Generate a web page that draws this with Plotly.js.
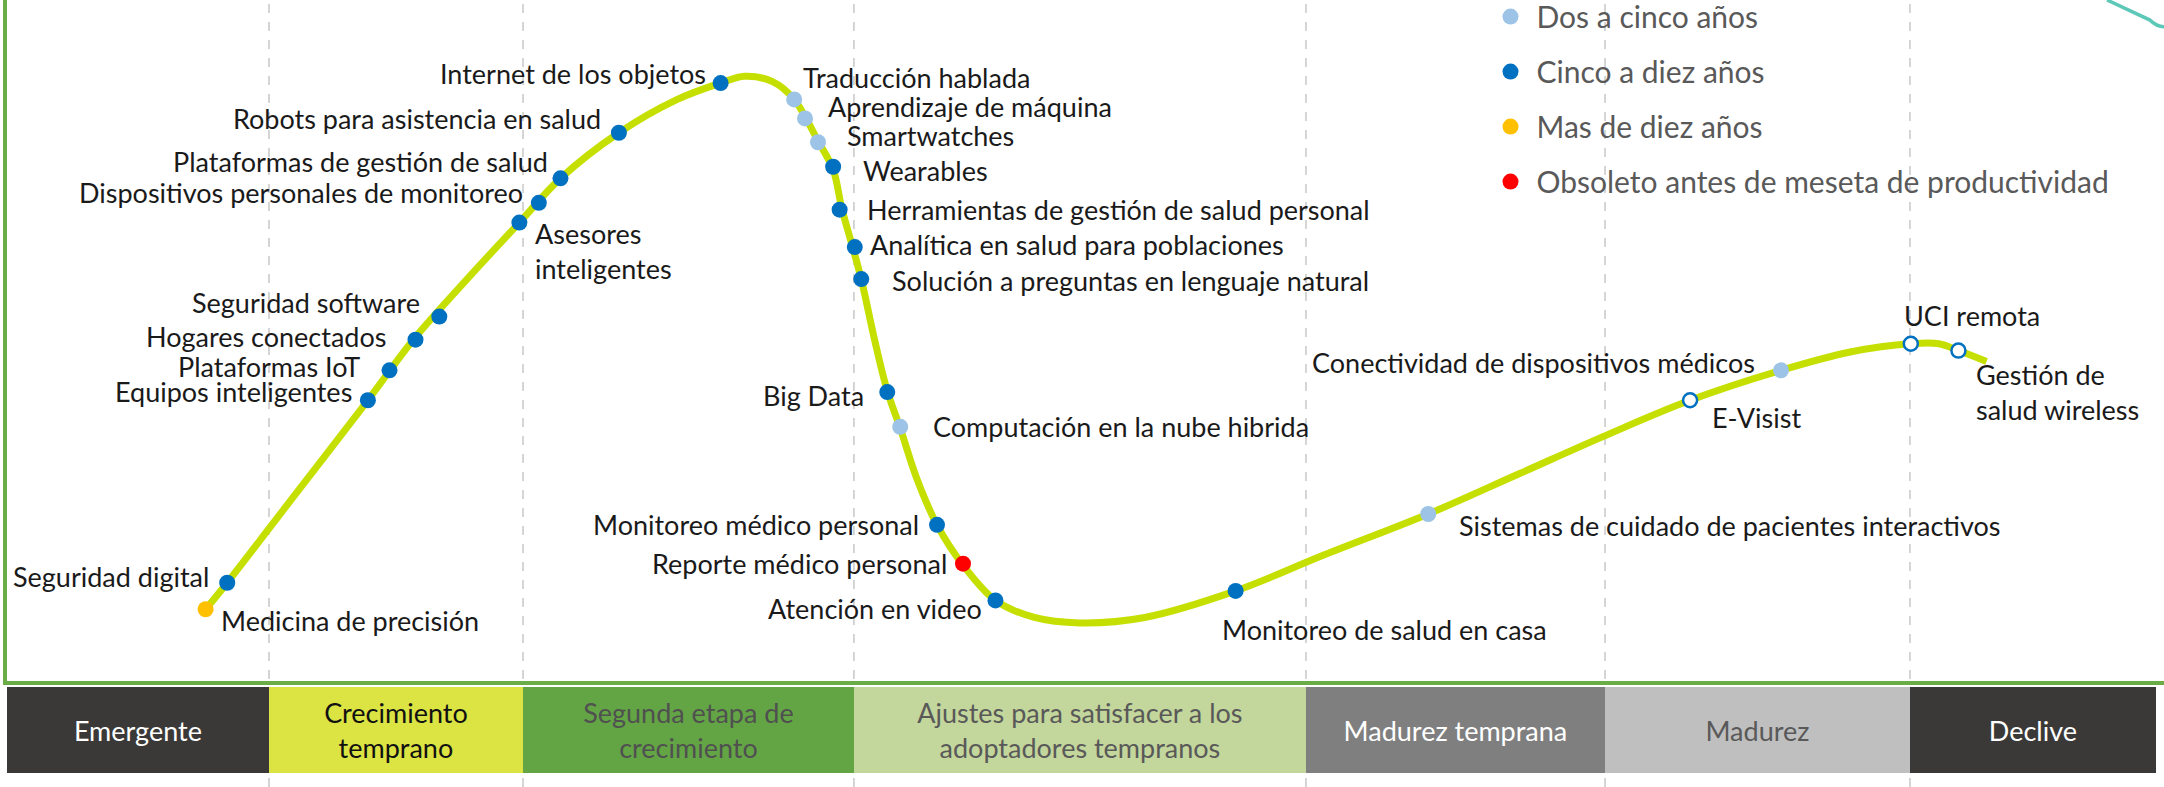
<!DOCTYPE html>
<html>
<head>
<meta charset="utf-8">
<script src="https://cdn.plot.ly/plotly-3.0.1.min.js"></script>
<style>
  html, body { margin: 0; padding: 0; background: #fff; }
  #hype { width: 2164px; height: 787px; }
</style>
</head>
<body>
<div id="hype"></div>
<script>
// curva (tiempo 0-100, expectativas 0-100)
var curveX = [9.5, 10.5, 13.7, 17.0, 19.1, 21.7, 24.0, 25.9, 28.6, 31.3, 33.3, 34.4, 35.7, 36.7, 37.8, 38.5, 38.9, 39.4, 39.8, 40.4, 41.0, 41.6, 42.4, 43.3, 44.5, 46.0, 47.8, 49.9, 52.9, 57.1, 61.2, 66.0, 70.2, 74.1, 78.1, 82.3, 85.5, 88.3, 89.6, 90.5, 91.8];
var curveY = [10.5, 14.4, 27.6, 41.2, 50.1, 59.4, 67.3, 73.8, 80.5, 85.4, 87.8, 88.8, 88.0, 85.4, 79.3, 75.1, 69.4, 63.7, 59.0, 50.3, 42.6, 37.1, 29.4, 22.9, 17.0, 11.8, 9.3, 8.5, 9.3, 13.2, 18.5, 24.5, 30.4, 35.9, 41.2, 45.6, 48.3, 49.5, 49.5, 48.5, 46.9];

// tecnologias
var itemNames = ["Medicina de precisión", "Seguridad digital", "Equipos inteligentes", "Plataformas IoT",
  "Hogares conectados", "Seguridad software", "Asesores<br>inteligentes", "Dispositivos personales de monitoreo",
  "Plataformas de gestión de salud", "Robots para asistencia en salud", "Internet de los objetos",
  "Traducción hablada", "Aprendizaje de máquina", "Smartwatches", "Wearables",
  "Herramientas de gestión de salud personal", "Analítica en salud para poblaciones",
  "Solución a preguntas en lenguaje natural", "Big Data", "Computación en la nube hibrida",
  "Monitoreo médico personal", "Reporte médico personal", "Atención en video",
  "Monitoreo de salud en casa", "Sistemas de cuidado de pacientes interactivos", "E-Visist",
  "Conectividad de dispositivos médicos", "UCI remota", "Gestión de<br>salud wireless"];
var itemX = [9.5, 10.5, 17.0, 18.0, 19.2, 20.3, 24.0, 24.9, 25.9, 28.6, 33.3, 36.7, 37.2, 37.8, 38.5, 38.8, 39.5, 39.8, 41.0, 41.6, 43.3, 44.5, 46.0, 57.1, 66.0, 78.1, 82.3, 88.3, 90.5];
var itemY = [10.5, 14.4, 41.2, 45.6, 50.1, 53.5, 67.3, 70.2, 73.8, 80.5, 87.8, 85.4, 82.6, 79.1, 75.5, 69.2, 63.7, 59.0, 42.4, 37.3, 22.9, 17.2, 11.8, 13.2, 24.5, 41.2, 45.6, 49.5, 48.5];
// 0 menos de dos, 1 dos a cinco, 2 cinco a diez, 3 mas de diez, 4 obsoleto
var itemCat = [3, 2, 2, 2, 2, 2, 2, 2, 2, 2, 2, 1, 1, 1, 2, 2, 2, 2, 2, 1, 2, 4, 2, 2, 1, 0, 1, 0, 0];

var catNames = ["Menos de dos años", "Dos a cinco años", "Cinco a diez años", "Mas de diez años", "Obsoleto antes de meseta de productividad"];

// etapas
var stageNames = ["Emergente", "Crecimiento<br>temprano", "Segunda etapa de<br>crecimiento",
  "Ajustes para satisfacer a los<br>adoptadores tempranos", "Madurez temprana", "Madurez", "Declive"];
var stageEdges = [0.32, 12.43, 24.17, 39.46, 60.35, 74.17, 88.26, 99.63];

// estilos
var catColors = ["#0070c0", "#9dc3e6", "#0070c0", "#ffc000", "#ff0000"];
var stageColors = ["#3a3938", "#dbe443", "#63a545", "#c3d69b", "#7f7f7f", "#bfbfbf", "#3a3938"];
var stageTextColors = ["#ffffff", "#111111", "#505050", "#595959", "#ffffff", "#595959", "#ffffff"];
// lado de la etiqueta, desplazamiento x, y en px
var labelSide = ["r", "l", "l", "l", "l", "l", "r", "l", "l", "l", "l", "r", "r", "r", "r", "r", "r", "r", "l", "r", "l", "l", "l", "r", "r", "r", "l", "r", "r"];
var labelDx = [14, -17, -15, -29, -28, -18, 15, -15, -11, -17, -14, 8, 22, 28, 29, 26, 14, 30, -22, 32, -17, -15, -12, -15, 30, 21, -25, -8, 17];
var labelDy = [-11, 6, 9, 4, 3, 14, -28, 10, 17, 14, 10, 22, 12, 7, -4, 0, 3, -1, -3, 0, 0, 0, -8, -39, -12, -17, 8, 28, -41];

var FONT = "Lato, 'Open Sans', sans-serif";

var data = [];

// bandas de etapas
var centers = [], widths = [], ones = [];
for (var i = 0; i < stageNames.length; i++) {
  centers.push((stageEdges[i] + stageEdges[i + 1]) / 2);
  widths.push(stageEdges[i + 1] - stageEdges[i]);
  ones.push(1);
}
data.push({
  type: "bar", x: centers, y: ones, width: widths, base: 0,
  xaxis: "x", yaxis: "y2",
  marker: {color: stageColors, line: {width: 0}},
  text: stageNames, textposition: "inside", insidetextanchor: "middle",
  textangle: 0, constraintext: "none",
  textfont: {family: FONT, size: 27, color: stageTextColors},
  hoverinfo: "skip", showlegend: false
});

// curva
data.push({
  type: "scatter", mode: "lines", x: curveX, y: curveY,
  line: {color: "#c5e000", width: 7, shape: "spline", smoothing: 1},
  hoverinfo: "skip", showlegend: false
});

// puntos por categoria
[0, 1, 2, 3, 4].forEach(function (c) {
  var xs = [], ys = [], ts = [];
  for (var i = 0; i < itemNames.length; i++) {
    if (itemCat[i] === c) { xs.push(itemX[i]); ys.push(itemY[i]); ts.push(itemNames[i].replace("<br>", " ")); }
  }
  var open = c === 0;
  data.push({
    type: "scatter", mode: "markers", x: xs, y: ys, text: ts, hoverinfo: "text",
    name: catNames[c], legendgroup: "g" + c, showlegend: !open,
    cliponaxis: false,
    marker: open
      ? {size: 14, color: "#ffffff", line: {color: catColors[c], width: 2.5}}
      : {size: 16, color: catColors[c], line: {width: 0}}
  });
});

var annotations = [];
for (var i = 0; i < itemNames.length; i++) {
  annotations.push({
    x: itemX[i], y: itemY[i], xref: "x", yref: "y",
    text: itemNames[i], showarrow: false, align: "left",
    xanchor: labelSide[i] === "l" ? "right" : "left", yanchor: "middle",
    xshift: labelDx[i], yshift: labelDy[i], borderpad: 0,
    font: {family: FONT, size: 27, color: "#1a1a1a"}
  });
}

var shapes = [];
for (var i = 1; i < stageEdges.length - 1; i++) {
  shapes.push({
    type: "line", xref: "x", yref: "paper", x0: stageEdges[i], x1: stageEdges[i], y0: 0, y1: 1,
    line: {color: "#c8c8c8", width: 1.5, dash: "dash"}, layer: "below"
  });
}
// trazo decorativo arriba a la derecha
shapes.push({
  type: "path", xref: "paper", yref: "paper",
  path: "M 0.9737 1.0 L 0.9935 0.9745 Q 0.9965 0.966 1.0 0.966",
  line: {color: "#5ec8b8", width: 3.5}
});

var layout = {
  width: 2164, height: 787,
  margin: {l: 0, r: 0, t: 0, b: 0, autoexpand: false},
  paper_bgcolor: "#ffffff", plot_bgcolor: "rgba(0,0,0,0)",
  font: {family: FONT},
  xaxis: {domain: [0.0032, 1], range: [0.32, 100], showgrid: false, zeroline: false,
    showticklabels: false, ticks: "", showline: true, linecolor: "#6aad47", linewidth: 4, anchor: "y"},
  yaxis: {domain: [0.135, 1], range: [0, 100], showgrid: false, zeroline: false,
    showticklabels: false, ticks: "", showline: true, linecolor: "#6aad47", linewidth: 4},
  yaxis2: {domain: [0.0178, 0.127], range: [0, 1], visible: false, anchor: "x"},
  bargap: 0,
  showlegend: true,
  legend: {x: 0.686, y: 1.012, xanchor: "left", yanchor: "top", bgcolor: "rgba(0,0,0,0)",
    traceorder: "grouped", tracegroupgap: 13, itemwidth: 42,
    font: {family: FONT, size: 30, color: "#595959"}},
  annotations: annotations,
  shapes: shapes,
  hovermode: "closest"
};

Plotly.newPlot("hype", data, layout, {displayModeBar: false});
</script>
</body>
</html>
